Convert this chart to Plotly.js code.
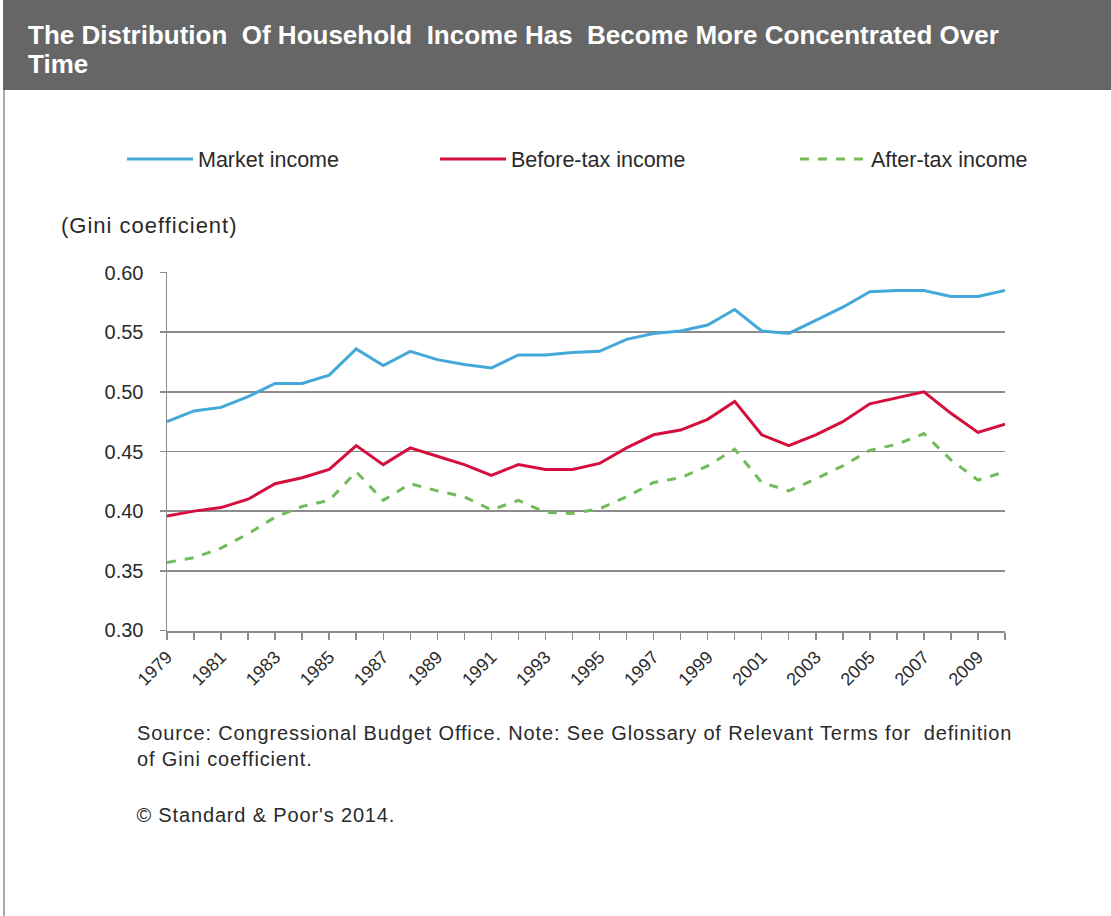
<!DOCTYPE html>
<html>
<head>
<meta charset="utf-8">
<script src="https://cdn.plot.ly/plotly-3.0.1.min.js"></script>
<style>
html,body{margin:0;padding:0;background:#fff;}
#chart{width:1111px;height:916px;}
g.annotation[data-index="2"] text{letter-spacing:1px;}
g.annotation[data-index="3"] text{letter-spacing:0.85px;}
g.annotation[data-index="4"] text{letter-spacing:0.85px;}
</style>
</head>
<body>
<div id="chart"></div>
<script>
var years = [1979,1980,1981,1982,1983,1984,1985,1986,1987,1988,1989,1990,1991,1992,1993,1994,1995,1996,1997,1998,1999,2000,2001,2002,2003,2004,2005,2006,2007,2008,2009,2010];
var marketIncome = [0.475,0.484,0.487,0.496,0.507,0.507,0.514,0.536,0.522,0.534,0.527,0.523,0.520,0.531,0.531,0.533,0.534,0.544,0.549,0.551,0.556,0.569,0.551,0.549,0.560,0.571,0.584,0.585,0.585,0.580,0.580,0.585];
var beforeTaxIncome = [0.396,0.400,0.403,0.410,0.423,0.428,0.435,0.455,0.439,0.453,0.446,0.439,0.430,0.439,0.435,0.435,0.440,0.453,0.464,0.468,0.477,0.492,0.464,0.455,0.464,0.475,0.490,0.495,0.500,0.482,0.466,0.473];
var afterTaxIncome = [0.357,0.361,0.369,0.381,0.395,0.404,0.409,0.433,0.409,0.423,0.417,0.412,0.401,0.409,0.399,0.398,0.402,0.412,0.424,0.428,0.438,0.452,0.424,0.417,0.427,0.438,0.451,0.456,0.465,0.443,0.426,0.433];
var yTicks = [0.30,0.35,0.40,0.45,0.50,0.55,0.60];
var xTickLabels = years.map(function(y){ return (y - 1979) % 2 === 0 ? String(y) : ''; });

var W = 1111, H = 916;
var L = 167, R = 1005, T = 272, B = 631;
function px(x){ return (x - L) / (R - L); }
function py(y){ return (B - y) / (B - T); }

var FONT = 'Liberation Sans, Arial, sans-serif';
var TXT = '#2a2a2a';
var GRID = '#8c8c8c';

var traces = [
  {x: years, y: marketIncome, name: 'Market income', type: 'scatter', mode: 'lines',
   line: {color: '#44a8d8', width: 3}, legend: 'legend'},
  {x: years, y: beforeTaxIncome, name: 'Before-tax income', type: 'scatter', mode: 'lines',
   line: {color: '#d40f3d', width: 3}, legend: 'legend2'},
  {x: years, y: afterTaxIncome, name: 'After-tax income', type: 'scatter', mode: 'lines',
   line: {color: '#72bb5c', width: 3, dash: 'dash'}, legend: 'legend3'}
];

function leg(xpx){
  return {x: px(xpx), y: py(159), xanchor: 'left', yanchor: 'middle', orientation: 'h',
          bgcolor: 'rgba(0,0,0,0)', font: {family: FONT, size: 21.5, color: TXT}, itemwidth: 66};
}

var layout = {
  width: W, height: H,
  margin: {l: L, r: W - R, t: T, b: H - B, pad: 0},
  paper_bgcolor: '#ffffff', plot_bgcolor: '#ffffff',
  font: {family: FONT, color: TXT, size: 16},
  showlegend: true,
  legend: leg(122), legend2: leg(435), legend3: leg(795),
  xaxis: {
    range: [1979, 2010], tickmode: 'array', tickvals: years, ticktext: xTickLabels,
    tickangle: -45, ticks: 'outside', ticklen: 7, tickcolor: GRID, tickwidth: 1.5,
    showline: true, linecolor: GRID, linewidth: 1.5, showgrid: false, zeroline: false,
    tickfont: {family: FONT, size: 18, color: TXT}
  },
  yaxis: {
    range: [0.2995, 0.6005], tickmode: 'array', tickvals: yTicks, tickformat: '.2f',
    ticks: 'outside', ticklen: 6, tickcolor: GRID, tickwidth: 1.5, ticklabelstandoff: 12,
    showline: true, linecolor: GRID, linewidth: 1.5,
    showgrid: true, gridcolor: GRID, gridwidth: 1.5, zeroline: false,
    tickfont: {family: FONT, size: 20, color: TXT}
  },
  shapes: [
    {type: 'rect', xref: 'paper', yref: 'paper', x0: px(3), x1: px(1111), y0: py(0), y1: py(90),
     fillcolor: '#666666', line: {width: 0}, layer: 'below'},
    {type: 'line', xref: 'paper', yref: 'paper', x0: px(4), x1: px(4), y0: py(90), y1: py(916),
     line: {color: GRID, width: 1.5}}
  ],
  annotations: [
    {xref: 'paper', yref: 'paper', x: px(26), y: py(35), xanchor: 'left', yanchor: 'middle', showarrow: false, align: 'left',
     text: '<b>The Distribution  Of Household  Income Has  Become More Concentrated Over</b>',
     font: {family: FONT, size: 26, color: '#ffffff'}},
    {xref: 'paper', yref: 'paper', x: px(26), y: py(64), xanchor: 'left', yanchor: 'middle', showarrow: false, align: 'left',
     text: '<b>Time</b>',
     font: {family: FONT, size: 26, color: '#ffffff'}},
    {xref: 'paper', yref: 'paper', x: px(68), y: py(226), xanchor: 'left', yanchor: 'middle', showarrow: false,
     text: '(Gini coefficient)', font: {family: FONT, size: 22, color: TXT}},
    {xref: 'paper', yref: 'paper', x: px(135), y: py(746), xanchor: 'left', yanchor: 'middle', showarrow: false, align: 'left',
     text: 'Source: Congressional Budget Office. Note: See Glossary of Relevant Terms for  definition<br>of Gini coefficient.',
     font: {family: FONT, size: 20, color: TXT}},
    {xref: 'paper', yref: 'paper', x: px(145), y: py(815), xanchor: 'left', yanchor: 'middle', showarrow: false,
     text: '© Standard & Poor\'s 2014.', font: {family: FONT, size: 20, color: TXT}}
  ]
};

Plotly.newPlot('chart', traces, layout, {displayModeBar: false, staticPlot: true});
</script>
</body>
</html>
